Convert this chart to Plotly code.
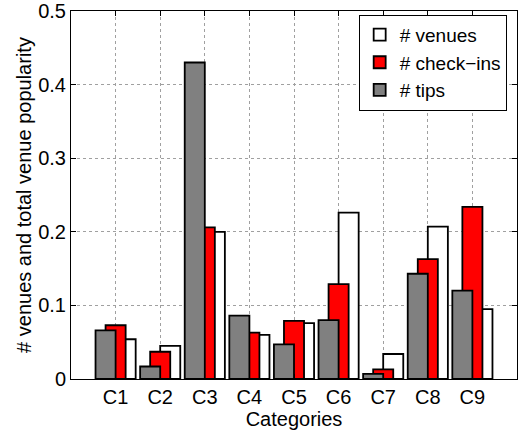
import plotly.graph_objects as go

categories = ["C1", "C2", "C3", "C4", "C5", "C6", "C7", "C8", "C9"]
positions = [1, 2, 3, 4, 5, 6, 7, 8, 9]
venues = [0.054, 0.045, 0.200, 0.060, 0.076, 0.226, 0.034, 0.207, 0.095]
checkins = [0.073, 0.037, 0.206, 0.063, 0.079, 0.129, 0.013, 0.163, 0.234]
tips = [0.066, 0.017, 0.430, 0.086, 0.047, 0.080, 0.007, 0.143, 0.120]
y_ticks = [0, 0.1, 0.2, 0.3, 0.4, 0.5]
y_ticklabels = ["0", "0.1", "0.2", "0.3", "0.4", "0.5"]

FONT = "Liberation Sans, Arial, Helvetica, sans-serif"
FS = 20
W = 0.45
line = dict(color="black", width=1.8)

fig = go.Figure()
fig.add_trace(go.Bar(x=positions, y=venues, name="# venues", width=W, offset=0,
                     marker=dict(color="white", line=line)))
fig.add_trace(go.Bar(x=positions, y=checkins, name="# check\u2212ins", width=W, offset=-W / 2,
                     marker=dict(color="#ff0000", line=line)))
fig.add_trace(go.Bar(x=positions, y=tips, name="# tips", width=W, offset=-W,
                     marker=dict(color="#808080", line=line)))

axis_common = dict(showline=True, linecolor="black", linewidth=1, mirror="ticks",
                   ticks="inside", ticklen=5, tickcolor="black",
                   showgrid=True, gridcolor="#a0a0a0", griddash="dot", gridwidth=1,
                   zeroline=False, automargin=False, ticklabeloverflow="allow",
                   tickfont=dict(size=FS, color="black", family=FONT))

fig.update_layout(
    width=523, height=434,
    margin=dict(l=71, r=6, t=11, b=55),
    paper_bgcolor="white", plot_bgcolor="white",
    barmode="overlay",
    font=dict(family=FONT, size=FS, color="black"),
    xaxis=dict(range=[0, 10], tickvals=positions, ticktext=categories,
               title=dict(text="Categories", standoff=0, font=dict(size=FS)),
               **axis_common),
    yaxis=dict(range=[0, 0.5], tickvals=y_ticks, ticktext=y_ticklabels,
               title=dict(text="# venues and total venue popularity", standoff=1, font=dict(size=FS)),
               **axis_common),
    legend=dict(x=0.645, y=0.99, xanchor="left", yanchor="top",
                bgcolor="white", bordercolor="black", borderwidth=1,
                font=dict(size=19), traceorder="normal", tracegroupgap=0,
                itemwidth=30),
    showlegend=True,
)

fig.write_html("out.html", config={"displayModeBar": False},
               post_script="document.body.style.margin='0';document.body.style.overflow='hidden';")
